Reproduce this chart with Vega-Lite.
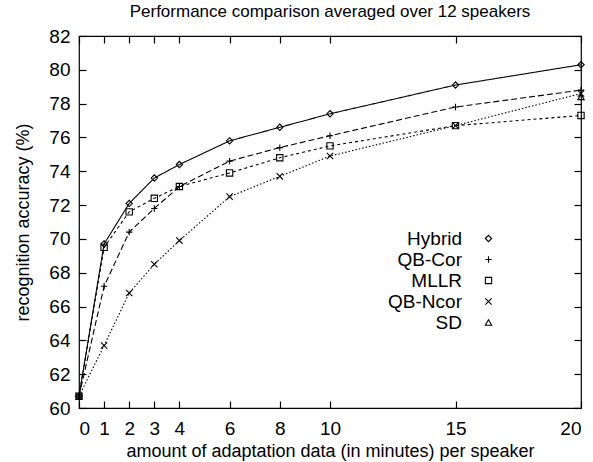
{
  "$schema": "https://vega.github.io/schema/vega-lite/v6.json",
  "width": 502,
  "height": 372,
  "autosize": "none",
  "padding": {"left": 79, "top": 36, "right": 12, "bottom": 54},
  "background": "white",
  "config": {
    "font": "Liberation Sans",
    "view": {"stroke": "black", "strokeWidth": 1.2},
    "axis": {"domain": false, "grid": false, "tickColor": "black", "tickSize": -7, "tickWidth": 1.2, "labelColor": "black", "titleColor": "black", "labelFont": "Liberation Sans", "titleFont": "Liberation Sans", "labelFontSize": 19, "titleFontSize": 18, "titleFontWeight": "normal"}
  },
  "title": {"text": "Performance comparison averaged over 12 speakers", "fontSize": 17, "fontWeight": "normal", "font": "Liberation Sans", "color": "black", "offset": 6},
  "data": {"values": [
    {"series": "Hybrid", "min": 0, "acc": 60.7},
    {"series": "Hybrid", "min": 1, "acc": 69.7},
    {"series": "Hybrid", "min": 2, "acc": 72.1},
    {"series": "Hybrid", "min": 3, "acc": 73.6},
    {"series": "Hybrid", "min": 4, "acc": 74.4},
    {"series": "Hybrid", "min": 6, "acc": 75.8},
    {"series": "Hybrid", "min": 8, "acc": 76.6},
    {"series": "Hybrid", "min": 10, "acc": 77.4},
    {"series": "Hybrid", "min": 15, "acc": 79.1},
    {"series": "Hybrid", "min": 20, "acc": 80.3},
    {"series": "QB-Cor", "min": 0, "acc": 60.7},
    {"series": "QB-Cor", "min": 1, "acc": 67.2},
    {"series": "QB-Cor", "min": 2, "acc": 70.4},
    {"series": "QB-Cor", "min": 3, "acc": 71.8},
    {"series": "QB-Cor", "min": 4, "acc": 73.1},
    {"series": "QB-Cor", "min": 6, "acc": 74.6},
    {"series": "QB-Cor", "min": 8, "acc": 75.4},
    {"series": "QB-Cor", "min": 10, "acc": 76.1},
    {"series": "QB-Cor", "min": 15, "acc": 77.8},
    {"series": "QB-Cor", "min": 20, "acc": 78.8},
    {"series": "MLLR", "min": 0, "acc": 60.7},
    {"series": "MLLR", "min": 1, "acc": 69.5},
    {"series": "MLLR", "min": 2, "acc": 71.6},
    {"series": "MLLR", "min": 3, "acc": 72.4},
    {"series": "MLLR", "min": 4, "acc": 73.1},
    {"series": "MLLR", "min": 6, "acc": 73.9},
    {"series": "MLLR", "min": 8, "acc": 74.8},
    {"series": "MLLR", "min": 10, "acc": 75.5},
    {"series": "MLLR", "min": 15, "acc": 76.7},
    {"series": "MLLR", "min": 20, "acc": 77.3},
    {"series": "QB-Ncor", "min": 0, "acc": 60.7},
    {"series": "QB-Ncor", "min": 1, "acc": 63.7},
    {"series": "QB-Ncor", "min": 2, "acc": 66.8},
    {"series": "QB-Ncor", "min": 3, "acc": 68.5},
    {"series": "QB-Ncor", "min": 4, "acc": 69.9},
    {"series": "QB-Ncor", "min": 6, "acc": 72.5},
    {"series": "QB-Ncor", "min": 8, "acc": 73.7},
    {"series": "QB-Ncor", "min": 10, "acc": 74.9},
    {"series": "QB-Ncor", "min": 15, "acc": 76.7},
    {"series": "QB-Ncor", "min": 20, "acc": 78.6},
    {"series": "SD", "min": 20, "acc": 78.4}
  ]},
  "layer": [
    {
      "mark": {"type": "line", "color": "black", "strokeWidth": 1.1},
      "transform": [{"filter": "datum.series !== 'SD'"}],
      "encoding": {
        "x": {"field": "min", "type": "quantitative", "scale": {"domain": [0, 20], "nice": false},
              "axis": {"values": [0, 1, 2, 3, 4, 6, 8, 10, 15, 20], "title": "amount of adaptation data (in minutes) per speaker", "labelPadding": 18, "titlePadding": 4}},
        "y": {"field": "acc", "type": "quantitative", "scale": {"domain": [60, 82], "nice": false, "zero": false},
              "axis": {"values": [60, 62, 64, 66, 68, 70, 72, 74, 76, 78, 80, 82], "title": "recognition accuracy (%)", "labelPadding": 16, "titlePadding": 16}},
        "detail": {"field": "series"},
        "strokeDash": {"field": "series", "type": "nominal", "legend": null,
          "scale": {"domain": ["Hybrid", "QB-Cor", "MLLR", "QB-Ncor"], "range": [[1, 0], [6, 3], [3, 3], [1.5, 2]]}}
      }
    },
    {
      "mark": {"type": "point", "filled": false, "color": "black", "strokeWidth": 1.1, "size": 40, "opacity": 1},
      "encoding": {
        "x": {"field": "min", "type": "quantitative", "axis": {"orient": "top", "values": [0, 1, 2, 3, 4, 6, 8, 10, 15, 20], "labels": false, "title": null}},
        "y": {"field": "acc", "type": "quantitative", "axis": {"orient": "right", "values": [60, 62, 64, 66, 68, 70, 72, 74, 76, 78, 80, 82], "labels": false, "title": null}},
        "shape": {"field": "series", "type": "nominal",
          "scale": {"domain": ["Hybrid", "QB-Cor", "MLLR", "QB-Ncor", "SD"],
                    "range": ["diamond", "M-1,0H1M0,-1V1", "square", "M-1,-1L1,1M-1,1L1,-1", "triangle-up"]},
          "legend": {"title": null, "orient": "none", "legendX": 400, "legendY": 193, "labelAlign": "right", "labelOffset": -36, "labelFontSize": 19, "labelColor": "black", "symbolStrokeColor": "black", "symbolFillColor": "transparent", "symbolSize": 40, "symbolStrokeWidth": 1.1, "rowPadding": 1, "labelFont": "Liberation Sans"}}
      }
    }
  ],
  "resolve": {"axis": {"x": "independent", "y": "independent"}}
}
